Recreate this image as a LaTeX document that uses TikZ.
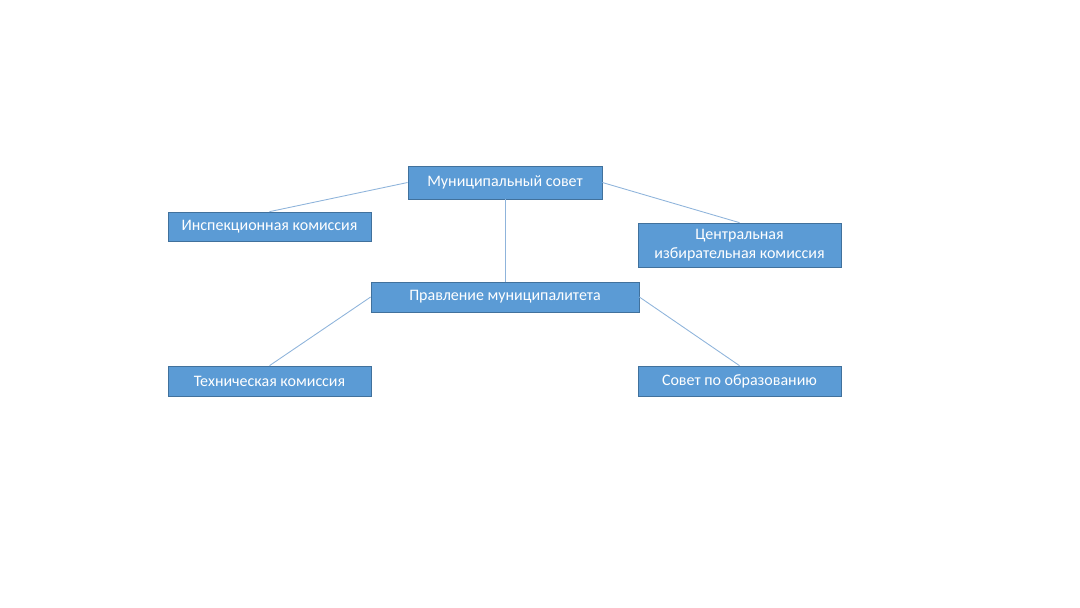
\documentclass[tikz,border=0pt]{standalone}
\usepackage{fontspec}
\setmainfont{Carlito}
\usepackage{tikz}
\definecolor{boxblue}{HTML}{5B9BD5}
\definecolor{boxedge}{HTML}{41719C}
\definecolor{linkblue}{HTML}{8FB4DB}
\tikzset{
  orgbox/.style={draw=boxedge,fill=boxblue,text=white,inner sep=0pt,
    font=\fontsize{9.1pt}{11pt}\selectfont,align=center},
  link/.style={draw=linkblue,line width=0.5pt}
}
\begin{document}
\begin{tikzpicture}[x=0.02cm,y=-0.02cm]
\useasboundingbox (0,0) rectangle (1080,608);
\node[orgbox,minimum width=194*0.02cm,minimum height=33*0.02cm] (council) at (505,182.5) {Муниципальный совет};
\node[orgbox,minimum width=203*0.02cm,minimum height=29*0.02cm] (inspect) at (269.5,226.5) {Инспекционная комиссия};
\node[orgbox,minimum width=203*0.02cm,minimum height=44*0.02cm] (election) at (739.5,245) {Центральная\\избирательная комиссия};
\node[orgbox,minimum width=268*0.02cm,minimum height=30*0.02cm] (board) at (505,297) {Правление муниципалитета};
\node[orgbox,minimum width=203*0.02cm,minimum height=30*0.02cm] (tech) at (269.5,381) {Техническая комиссия};
\node[orgbox,minimum width=203*0.02cm,minimum height=30*0.02cm] (edu) at (739.5,381) {Совет по образованию};

\draw[link] (council.west) -- (inspect.north);
\draw[link] (council.east) -- (election.north);
\draw[link] (council.south) -- (board.north);
\draw[link] (board.west) -- (tech.north);
\draw[link] (board.east) -- (edu.north);
\end{tikzpicture}
\end{document}
